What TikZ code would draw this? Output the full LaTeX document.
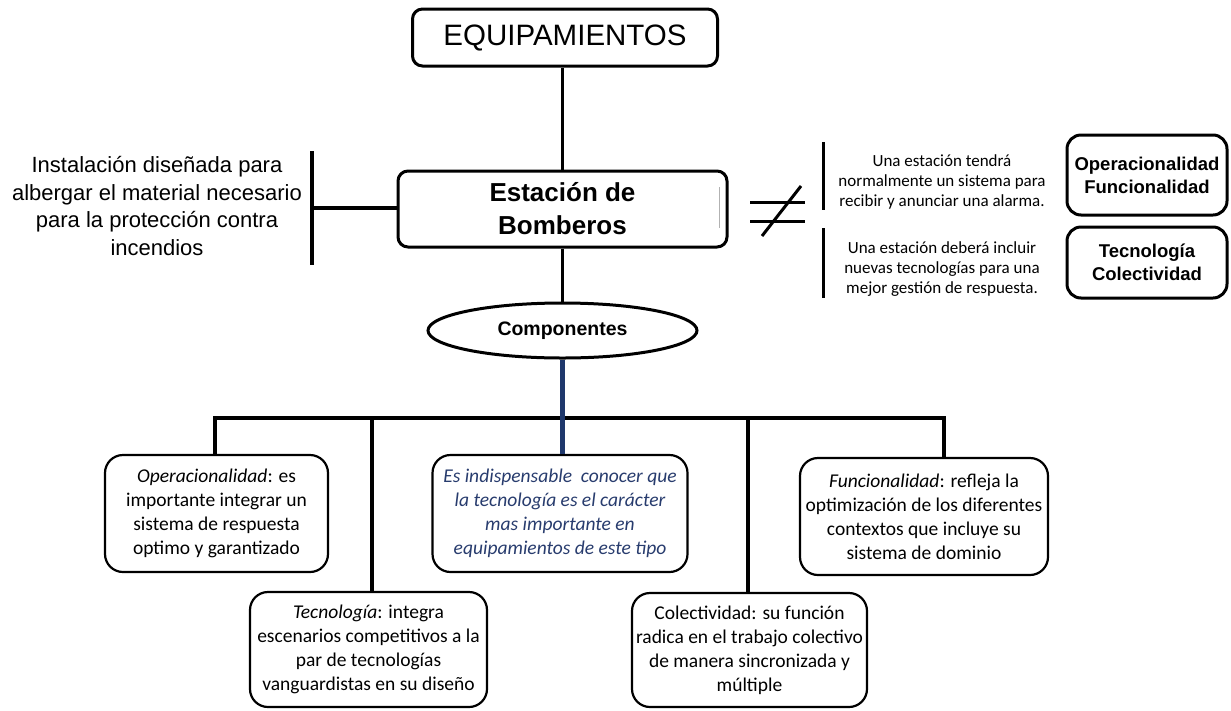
\documentclass[tikz,border=0pt]{standalone}
\usepackage{fontspec}
\setmainfont{Carlito}
\newfontfamily\arial{Liberation Sans}
\usetikzlibrary{shapes.geometric}
\definecolor{navy}{RGB}{31,56,108}
\definecolor{navytext}{RGB}{40,60,110}
\begin{document}
\begin{tikzpicture}[x=1pt,y=-1pt,
  conn/.style={line width=3.5pt, line join=miter},
  topbox/.style={draw, line width=3pt, rounded corners=10pt, fill=white, align=center, inner sep=0pt},
  compbox/.style={draw, line width=2.2pt, rounded corners=18pt, fill=white, align=center, inner sep=0pt, font=\fontsize{19.5}{24}\selectfont},
  sidebox/.style={draw, line width=3pt, rounded corners=14pt, fill=white, align=center, inner sep=0pt, font=\arial\bfseries\fontsize{18.5}{23}\selectfont, minimum width=160pt},
  note/.style={align=center, inner sep=0pt, font=\fontsize{17}{20}\selectfont}
]
\useasboundingbox (0,0) rectangle (1231,710);

% top nodes
\node[topbox, minimum width=305pt, minimum height=57pt, font=\arial\fontsize{29.5}{34}\selectfont] (equip) at (565,37.5) {EQUIPAMIENTOS};
\node[topbox, minimum width=329pt, minimum height=76pt, font=\arial\bfseries\fontsize{26}{33}\selectfont] (estacion) at (562.5,209) {Estación de\\Bomberos};
\node[draw, ellipse, line width=3pt, fill=white, minimum width=269pt, minimum height=55pt, inner sep=0pt, font=\arial\bfseries\fontsize{19.5}{23}\selectfont] (comp) at (562.5,330.5) {Componentes};

% left description
\node[align=center, inner sep=0pt, font=\arial\fontsize{22}{27.5}\selectfont] (desc) at (157,206) {Instalación diseñada para\\albergar el material necesario\\para la protección contra\\incendios};
\coordinate (lbT) at (312,151);
\coordinate (lbB) at (312,265);
\coordinate (lbM) at (312,208);

% right side
\node[note] (n1) at (942,182) {Una estación tendrá\\normalmente un sistema para\\recibir y anunciar una alarma.};
\node[note] (n2) at (942,269) {Una estación deberá incluir\\nuevas tecnologías para una\\mejor gestión de respuesta.};
\coordinate (r1T) at (823,142);
\coordinate (r1B) at (823,210);
\coordinate (r2T) at (823,228);
\coordinate (r2B) at (823,298);
\node[sidebox, minimum height=80pt] (opfun) at (1147,175) {Operacionalidad\\Funcionalidad};
\node[sidebox, minimum height=71pt] (teccol) at (1147,262.5) {Tecnología\\Colectividad};

% components
\node[compbox, minimum width=223pt, minimum height=117pt] (op) at (216.5,513.5) {\textit{Operacionalidad}: es\\importante integrar un\\sistema de respuesta\\optimo y garantizado};
\node[compbox, minimum width=255pt, minimum height=117pt, text=navytext, font=\itshape\fontsize{19.5}{24}\selectfont] (ctr) at (560,513.5) {Es indispensable~ conocer que\\la tecnología es el carácter\\mas importante en\\equipamientos de este tipo};
\node[compbox, minimum width=248pt, minimum height=117pt] (fun) at (924,516.5) {\textit{Funcionalidad}: refleja la\\optimización de los diferentes\\contextos que incluye su\\sistema de dominio};
\node[compbox, minimum width=237pt, minimum height=115pt] (tec) at (368.5,649.5) {\textit{Tecnología}: integra\\escenarios competitivos a la\\par de tecnologías\\vanguardistas en su diseño};
\node[compbox, minimum width=235pt, minimum height=114pt] (col) at (749.5,650) {Colectividad: su función\\radica en el trabajo colectivo\\de manera sincronizada y\\múltiple};

% connectors
\draw[conn] (estacion.north |- equip.south) -- (estacion.north);
\draw[conn] (estacion.south) -- (comp.north);
\draw[conn] (lbM) -- (lbM -| estacion.west);
\draw[conn] (lbT) -- (lbB);
\draw[line width=3pt] (r1T) -- (r1B);
\draw[line width=3pt] (r2T) -- (r2B);

\coordinate (busL) at (215,418);
\coordinate (busR) at (944,418);
\coordinate (bTec) at (372,418);
\coordinate (bCol) at (748,418);
\draw[conn] (busL |- op.north) -- (busL) -- (busR) -- (busR |- fun.north);
\draw[conn] (bTec) -- (bTec |- tec.north);
\draw[conn] (bCol) -- (bCol |- col.north);
\draw[line width=5.5pt, navy] (comp.south) -- (comp.south |- ctr.north);

% not-equal sign
\draw[line width=3pt] (750,202) -- (805,202);
\draw[line width=3pt] (750,221) -- (805,221);
\draw[line width=3pt] (762,236) -- (801,186);

% faint line inside Estacion box
\draw[gray!60, line width=1pt] (719,187) -- (719,228);
\end{tikzpicture}
\end{document}
